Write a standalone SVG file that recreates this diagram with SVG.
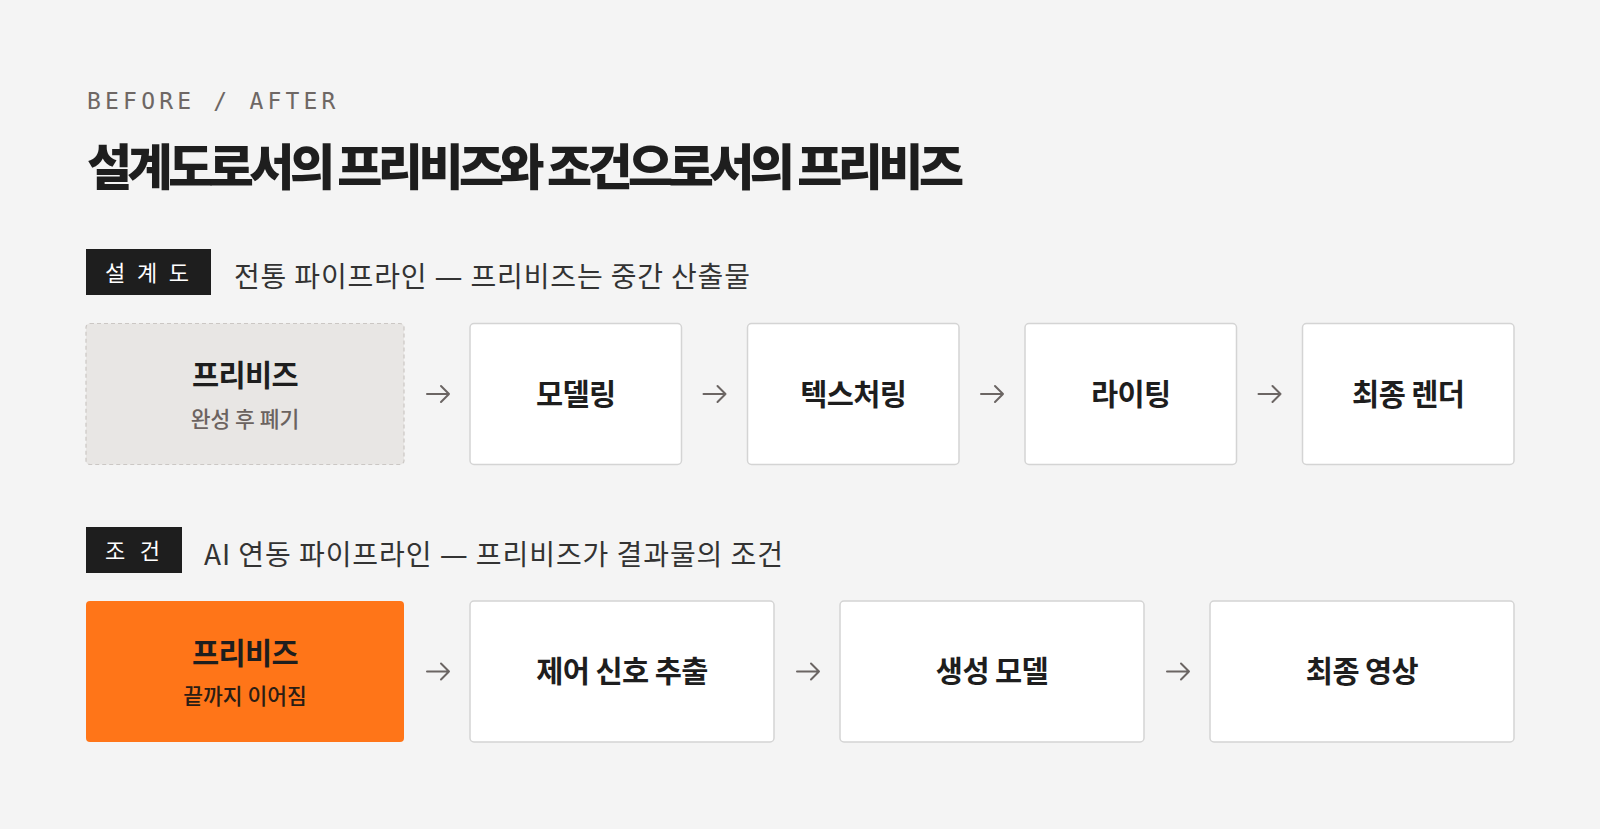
<svg xmlns="http://www.w3.org/2000/svg" width="1600" height="829" viewBox="0 0 1600 829">
<defs>
<style>
.kr{font-family:"Noto Sans CJK KR","Noto Sans",sans-serif;}
.eyebrow{font-family:"DejaVu Sans Mono","Liberation Mono",monospace;font-size:23px;fill:#6e6764;letter-spacing:4.2px;}
.title{font-size:49px;font-weight:900;fill:#1e1e1e;}
.tag{fill:#1e1e1e;}
.tagtxt{font-size:22px;fill:#ffffff;}
.sub{font-size:28px;fill:#333333;}
.dash{font-family:"DejaVu Sans",sans-serif;}
.box{fill:#ffffff;stroke:#d4d4d4;stroke-width:1.5;}
.ghost{fill:#e8e6e4;stroke:#cbc7c4;stroke-width:1.2;stroke-dasharray:4 3;}
.hot{fill:#ff7518;}
.lbl{font-size:29.5px;font-weight:700;fill:#1e1e1e;text-anchor:middle;letter-spacing:-0.6px;}
.note{font-size:21.5px;font-weight:500;fill:#6b6360;text-anchor:middle;}
.note2{font-size:21.5px;font-weight:500;fill:#2b1d14;text-anchor:middle;}
.arr{fill:none;stroke:#6b6563;stroke-width:2;stroke-linecap:round;stroke-linejoin:round;}
</style>
</defs>
<rect width="1600" height="829" fill="#f4f4f4"/>

<text class="eyebrow" x="87" y="109">BEFORE / AFTER</text>
<text class="kr title" x="87" y="185" textLength="877" lengthAdjust="spacing">설계도로서의 프리비즈와 조건으로서의 프리비즈</text>

<g id="header1">
<rect class="tag" x="86" y="249" width="125" height="46"/>
<text class="kr tagtxt" x="105" y="281" textLength="84" lengthAdjust="spacing">설 계 도</text>
<text class="kr sub" x="234" y="287" textLength="516" lengthAdjust="spacing">전통 파이프라인 <tspan class="dash">—</tspan> 프리비즈는 중간 산출물</text>
</g>

<g id="header2">
<rect class="tag" x="86" y="527" width="96" height="46"/>
<text class="kr tagtxt" x="105" y="559" textLength="55" lengthAdjust="spacing">조 건</text>
<text class="kr sub" x="204" y="565" textLength="579" lengthAdjust="spacing">AI 연동 파이프라인 <tspan class="dash">—</tspan> 프리비즈가 결과물의 조건</text>
</g>

<g id="a1">
<rect class="ghost" x="86" y="323.5" width="318" height="141" rx="4"/>
<text class="kr lbl" x="245" y="386">프리비즈</text>
<text class="kr note" x="245" y="426.5">완성 후 폐기</text>
</g>
<g id="a2">
<rect class="box" x="470" y="323.5" width="211.5" height="141" rx="4"/>
<text class="kr lbl" x="575.75" y="404.5">모델링</text>
</g>
<g id="a3">
<rect class="box" x="747.5" y="323.5" width="211.5" height="141" rx="4"/>
<text class="kr lbl" x="853.25" y="404.5">텍스처링</text>
</g>
<g id="a4">
<rect class="box" x="1025" y="323.5" width="211.5" height="141" rx="4"/>
<text class="kr lbl" x="1130.75" y="404.5">라이팅</text>
</g>
<g id="a5">
<rect class="box" x="1302.5" y="323.5" width="211.5" height="141" rx="4"/>
<text class="kr lbl" x="1408.25" y="404.5">최종 렌더</text>
</g>

<g id="b1">
<rect class="hot" x="86" y="601" width="318" height="141" rx="4"/>
<text class="kr lbl" x="245" y="663.5">프리비즈</text>
<text class="kr note2" x="245" y="704">끝까지 이어짐</text>
</g>
<g id="b2">
<rect class="box" x="470" y="601" width="304" height="141" rx="4"/>
<text class="kr lbl" x="622" y="682">제어 신호 추출</text>
</g>
<g id="b3">
<rect class="box" x="840" y="601" width="304" height="141" rx="4"/>
<text class="kr lbl" x="992" y="682">생성 모델</text>
</g>
<g id="b4">
<rect class="box" x="1210" y="601" width="304" height="141" rx="4"/>
<text class="kr lbl" x="1362" y="682">최종 영상</text>
</g>

<g id="connectors">
<path class="arr" d="M427 394H449M441 386L449 394L441 402"/>
<path class="arr" d="M703.5 394H725.5M717.5 386L725.5 394L717.5 402"/>
<path class="arr" d="M981 394H1003M995 386L1003 394L995 402"/>
<path class="arr" d="M1258.5 394H1280.5M1272.5 386L1280.5 394L1272.5 402"/>
<path class="arr" d="M427 671.5H449M441 663.5L449 671.5L441 679.5"/>
<path class="arr" d="M797 671.5H819M811 663.5L819 671.5L811 679.5"/>
<path class="arr" d="M1167 671.5H1189M1181 663.5L1189 671.5L1181 679.5"/>
</g>
</svg>
